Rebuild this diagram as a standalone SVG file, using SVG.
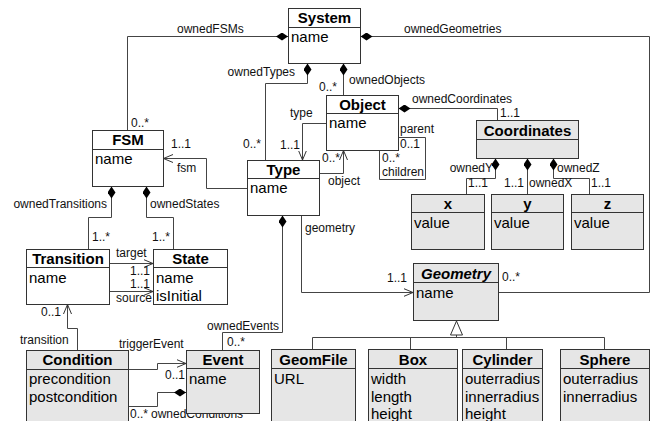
<svg xmlns="http://www.w3.org/2000/svg" width="659" height="421" viewBox="0 0 659 421">
<defs>
<style>
.b{fill:#fff;stroke:#333;stroke-width:1}
.g{fill:#e6e6e6;stroke:#333;stroke-width:1}
.d{stroke:#333;stroke-width:1}
.t{font-family:"Liberation Sans",Arial,sans-serif;font-weight:bold;font-size:15px;text-anchor:middle;fill:#000}
.ti{font-style:italic}
.a{font-family:"Liberation Sans",Arial,sans-serif;font-size:15px;fill:#000}
.l{font-family:"Liberation Sans",Arial,sans-serif;font-size:12px;fill:#111}
.e{text-anchor:end}
.c{fill:none;stroke:#444;stroke-width:1}
.cd{marker-start:url(#dia)}
.ca{marker-end:url(#arr)}
</style>
<marker id="dia" viewBox="0 0 12 8" refX="0" refY="4" markerWidth="12" markerHeight="8" markerUnits="userSpaceOnUse" orient="auto">
<path d="M0,4 L6,0 L12,4 L6,8 Z" fill="#000"/>
</marker>
<marker id="arr" viewBox="0 0 10 10" refX="9.5" refY="5" markerWidth="10" markerHeight="10" markerUnits="userSpaceOnUse" orient="auto">
<path d="M0,1 L9.5,5 L0,9" fill="none" stroke="#333" stroke-width="1"/>
</marker>
</defs>
<rect width="659" height="421" fill="#fff"/>

<g id="connectors">
<path class="c cd" d="M288,36.5 H127.5 V130"/>
<path class="c cd" d="M360.5,36.5 H649.5 V292.5 H498.5"/>
<path class="c cd" d="M307.5,63.5 V83.5 H265.5 V160"/>
<path class="c cd" d="M343.5,63.5 V95"/>
<path class="c ca" d="M326,123.5 H302.5 V160"/>
<path class="c ca" d="M319,173.5 H343.5 V150.5"/>
<path class="c" d="M379.5,150.5 V179.5 H425.5 V137.5 H398.5"/>
<path class="c cd" d="M398.5,108.5 H497.5 V120"/>
<path class="c cd" d="M495.5,158.5 V178.5 H466.5 V194"/>
<path class="c cd" d="M527.5,158.5 V194"/>
<path class="c cd" d="M553.5,158.5 V178.5 H589.5 V194"/>
<path class="c ca" d="M247,188.5 H206.5 V158.5 H163.5"/>
<path class="c cd" d="M111.5,186.5 V217.5 H88.5 V249"/>
<path class="c cd" d="M146.5,186.5 V217.5 H173.5 V249"/>
<path class="c ca" d="M109.5,263.5 H153"/>
<path class="c ca" d="M109.5,291.5 H153"/>
<path class="c ca" d="M77.5,350 V328.5 H67.5 V304.5"/>
<path class="c ca" d="M128.5,369.5 H157.5 V363.5 H186"/>
<path class="c cd" d="M186,392.5 H157.5 V406.5 H128.5"/>
<path class="c cd" d="M282.5,215.5 V332.5 H222.5 V350"/>
<path class="c ca" d="M301.5,215.5 V292.5 H413"/>
<path class="c" d="M456.5,335 V337.5 M312.5,349 V337.5 H604.5 V349 M410.5,337.5 V349 M506.5,337.5 V349"/>
<polygon points="456.5,321 450.5,335 462.5,335" fill="#fff" stroke="#333" stroke-width="1"/>
<text class="l" x="177" y="33">ownedFSMs</text>
<text class="l" x="404" y="33">ownedGeometries</text>
<text class="l e" x="295" y="76">ownedTypes</text>
<text class="l" x="131" y="127">0..*</text>
<text class="l" x="349" y="84">ownedObjects</text>
<text class="l" x="319" y="91">0..*</text>
<text class="l" x="412" y="103">ownedCoordinates</text>
<text class="l" x="500" y="117">1..1</text>
<text class="l" x="290" y="117">type</text>
<text class="l" x="280" y="149">1..1</text>
<text class="l" x="243" y="148">0..*</text>
<text class="l" x="322" y="162">0..*</text>
<text class="l" x="328" y="185">object</text>
<text class="l" x="400" y="133">parent</text>
<text class="l" x="400" y="148">0..1</text>
<text class="l" x="382" y="162">0..*</text>
<text class="l" x="382" y="176">children</text>
<text class="l e" x="493" y="172">ownedY</text>
<text class="l" x="557" y="172">ownedZ</text>
<text class="l" x="468" y="187">1..1</text>
<text class="l" x="504" y="187">1..1</text>
<text class="l" x="529" y="187">ownedX</text>
<text class="l" x="591" y="187">1..1</text>
<text class="l" x="177" y="172">fsm</text>
<text class="l" x="171" y="148">1..1</text>
<text class="l e" x="107" y="208">ownedTransitions</text>
<text class="l" x="150" y="208">ownedStates</text>
<text class="l" x="92" y="241">1..*</text>
<text class="l" x="152" y="241">1..*</text>
<text class="l" x="116" y="257">target</text>
<text class="l" x="130" y="275">1..1</text>
<text class="l" x="130" y="288">1..1</text>
<text class="l" x="116" y="302">source</text>
<text class="l" x="41" y="316">0..1</text>
<text class="l" x="20" y="344">transition</text>
<text class="l" x="119" y="348">triggerEvent</text>
<text class="l" x="165" y="379">0..1</text>
<text class="l" x="130" y="418">0..*</text>
<text class="l" x="151" y="418">ownedConditions</text>
<text class="l" x="207" y="330">ownedEvents</text>
<text class="l" x="227" y="346">0..*</text>
<text class="l" x="305" y="232">geometry</text>
<text class="l" x="387" y="282">1..1</text>
<text class="l" x="502" y="281">0..*</text>
</g>

<g id="System">
<rect class="b" x="288.5" y="8.5" width="72" height="55"/>
<line class="d" x1="288.5" y1="27.5" x2="360.5" y2="27.5"/>
<text class="t" x="324.5" y="23">System</text>
<text class="a" x="291" y="42">name</text>
</g>
<g id="Object">
<rect class="b" x="326.5" y="95.5" width="72" height="55"/>
<line class="d" x1="326.5" y1="113.5" x2="398.5" y2="113.5"/>
<text class="t" x="362.5" y="110">Object</text>
<text class="a" x="329" y="128">name</text>
</g>
<g id="Type">
<rect class="b" x="247.5" y="160.5" width="72" height="55"/>
<line class="d" x1="247.5" y1="178.5" x2="319.5" y2="178.5"/>
<text class="t" x="283.5" y="175">Type</text>
<text class="a" x="250" y="193">name</text>
</g>
<g id="FSM">
<rect class="b" x="92.5" y="130.5" width="71" height="56"/>
<line class="d" x1="92.5" y1="149.5" x2="163.5" y2="149.5"/>
<text class="t" x="128" y="145">FSM</text>
<text class="a" x="95" y="164">name</text>
</g>
<g id="Transition">
<rect class="b" x="26.5" y="249.5" width="83" height="55"/>
<line class="d" x1="26.5" y1="267.5" x2="109.5" y2="267.5"/>
<text class="t" x="68" y="264">Transition</text>
<text class="a" x="29" y="283">name</text>
</g>
<g id="State">
<rect class="b" x="153.5" y="249.5" width="74" height="55"/>
<line class="d" x1="153.5" y1="267.5" x2="227.5" y2="267.5"/>
<text class="t" x="190.5" y="264">State</text>
<text class="a" x="156" y="283">name</text>
<text class="a" x="156" y="301">isInitial</text>
</g>
<g id="Coordinates">
<rect class="g" x="476.5" y="120.5" width="102" height="38"/>
<line class="d" x1="476.5" y1="139.5" x2="578.5" y2="139.5"/>
<text class="t" x="527.5" y="136">Coordinates</text>
</g>
<g id="x">
<rect class="g" x="411.5" y="194.5" width="73" height="55"/>
<line class="d" x1="411.5" y1="212.5" x2="484.5" y2="212.5"/>
<text class="t" x="448" y="209">x</text>
<text class="a" x="414" y="228">value</text>
</g>
<g id="y">
<rect class="g" x="491.5" y="194.5" width="72" height="55"/>
<line class="d" x1="491.5" y1="212.5" x2="563.5" y2="212.5"/>
<text class="t" x="527.5" y="209">y</text>
<text class="a" x="494" y="228">value</text>
</g>
<g id="z">
<rect class="g" x="571.5" y="194.5" width="72" height="55"/>
<line class="d" x1="571.5" y1="212.5" x2="643.5" y2="212.5"/>
<text class="t" x="607.5" y="209">z</text>
<text class="a" x="574" y="228">value</text>
</g>
<g id="Geometry">
<rect class="g" x="413.5" y="263.5" width="85" height="57"/>
<line class="d" x1="413.5" y1="282.5" x2="498.5" y2="282.5"/>
<text class="t ti" x="456" y="279">Geometry</text>
<text class="a" x="416" y="298">name</text>
</g>
<g id="GeomFile">
<rect class="g" x="271.5" y="349.5" width="84" height="80"/>
<line class="d" x1="271.5" y1="368.5" x2="355.5" y2="368.5"/>
<text class="t" x="313.5" y="365">GeomFile</text>
<text class="a" x="274" y="384">URL</text>
</g>
<g id="Box">
<rect class="g" x="368.5" y="349.5" width="89" height="80"/>
<line class="d" x1="368.5" y1="368.5" x2="457.5" y2="368.5"/>
<text class="t" x="413" y="365">Box</text>
<text class="a" x="371" y="384">width</text>
<text class="a" x="371" y="402">length</text>
<text class="a" x="371" y="419">height</text>
</g>
<g id="Cylinder">
<rect class="g" x="462.5" y="349.5" width="80" height="80"/>
<line class="d" x1="462.5" y1="368.5" x2="542.5" y2="368.5"/>
<text class="t" x="502.5" y="365">Cylinder</text>
<text class="a" x="465" y="384">outerradius</text>
<text class="a" x="465" y="402">innerradius</text>
<text class="a" x="465" y="419">height</text>
</g>
<g id="Sphere">
<rect class="g" x="560.5" y="349.5" width="89" height="80"/>
<line class="d" x1="560.5" y1="368.5" x2="649.5" y2="368.5"/>
<text class="t" x="605" y="365">Sphere</text>
<text class="a" x="563" y="384">outerradius</text>
<text class="a" x="563" y="402">innerradius</text>
</g>
<g id="Condition">
<rect class="g" x="26.5" y="350.5" width="102" height="80"/>
<line class="d" x1="26.5" y1="369.5" x2="128.5" y2="369.5"/>
<text class="t" x="77.5" y="365">Condition</text>
<text class="a" x="29" y="384">precondition</text>
<text class="a" x="29" y="402">postcondition</text>
</g>
<g id="Event">
<rect class="g" x="186.5" y="350.5" width="73" height="63"/>
<line class="d" x1="186.5" y1="368.5" x2="259.5" y2="368.5"/>
<text class="t" x="223" y="365">Event</text>
<text class="a" x="189" y="384">name</text>
</g>
</svg>
